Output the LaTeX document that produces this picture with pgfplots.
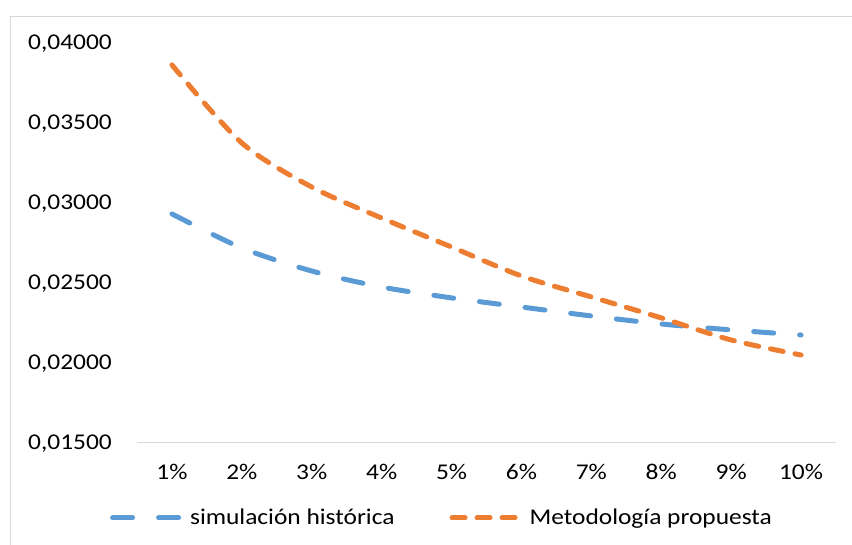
\documentclass[border=0pt]{standalone}
\usepackage{fontspec}
\setmainfont{Carlito}[FakeStretch=1.13]
\usepackage{pgfplots}
\pgfplotsset{compat=1.18}
\definecolor{exblue}{HTML}{5B9BD5}
\definecolor{exorange}{HTML}{ED7D31}
\definecolor{frame}{HTML}{D9D9D9}

\begin{document}
\begin{tikzpicture}[font=\fontsize{22.5}{26}\selectfont]
\path[use as bounding box] (0,0) rectangle (852pt,545pt);
% chart frame (only top and left edges are inside the picture)
\draw[frame, line width=1.5pt] (10.5pt,-2pt) -- (10.5pt,528.5pt) -- (860pt,528.5pt);

\begin{axis}[
   at={(137pt,102.3pt)}, anchor=south west,
   width=699pt, height=400pt, scale only axis,
   xmin=0.5, xmax=10.5,
   ymin=0.015, ymax=0.04,
   scaled y ticks=false,
   axis lines*=left,
   x axis line style={frame, line width=1.5pt},
   y axis line style={draw=none},
   major tick length=0pt,
   xtick={1,...,10},
   xticklabels={1\%,2\%,3\%,4\%,5\%,6\%,7\%,8\%,9\%,10\%},
   ytick={0.015,0.02,0.025,0.03,0.035,0.04},
   yticklabels={{0,01500},{0,02000},{0,02500},{0,03000},{0,03500},{0,04000}},
   xticklabel style={anchor=base, inner sep=0pt, yshift=-36.5pt},
   yticklabel style={anchor=base east, inner sep=0pt, xshift=-25pt, yshift=-7.3pt},
   clip=false,
   legend columns=2,
   legend style={at={(0.4363,-0.188)}, anchor=center, draw=none, fill=none,
      /tikz/every odd column/.append style={column sep=6pt},
      /tikz/every even column/.append style={column sep=53pt},
      nodes={inner sep=2pt}},
   legend image code/.code={\draw[#1] (0pt,0pt) -- (67pt,0pt);},
]
\addplot[exblue, line width=5pt, line cap=round, smooth, dash pattern=on 20pt off 26pt] coordinates {
   (1, 0.02930) (2, 0.02717) (3, 0.02573) (4, 0.02473) (5, 0.02405)
   (6, 0.02348) (7, 0.02292) (8, 0.02242) (9, 0.02205) (10, 0.02173)
};
\addlegendentry{simulación histórica}
\addplot[exorange, line width=5pt, line cap=round, smooth, dash pattern=on 13pt off 12pt] coordinates {
   (1, 0.03861) (2, 0.03373) (3, 0.03098) (4, 0.02904) (5, 0.02723)
   (6, 0.02542) (7, 0.02411) (8, 0.02280) (9, 0.02142) (10, 0.02048)
};
\addlegendentry{Metodología propuesta}
\end{axis}
\end{tikzpicture}
\end{document}
